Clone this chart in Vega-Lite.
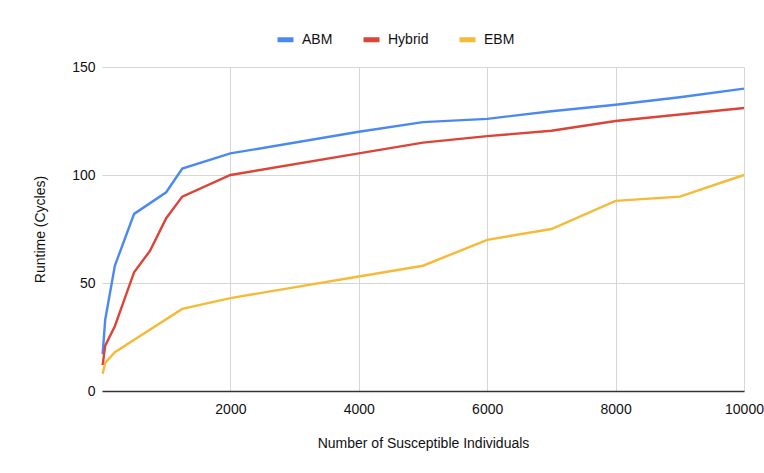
{
  "$schema": "https://vega.github.io/schema/vega-lite/v6.json",
  "width": 642,
  "height": 324,
  "autosize": {"type": "none"},
  "padding": {"left": 102, "top": 67, "right": 20, "bottom": 82},
  "background": "white",
  "config": {
    "view": {"stroke": null},
    "font": "Liberation Sans",
    "axis": {"labelFont": "Liberation Sans", "titleFont": "Liberation Sans", "labelFontSize": 14, "titleFontSize": 14, "labelColor": "#111111", "titleColor": "#111111", "titleFontWeight": "normal", "gridColor": "#d6d6d6", "gridWidth": 1, "ticks": false},
    "legend": {"labelFont": "Liberation Sans", "labelFontSize": 14, "labelColor": "#111111"}
  },
  "data": {
    "values": [
      {"n": 10, "model": "ABM", "runtime": 17},
      {"n": 50, "model": "ABM", "runtime": 33},
      {"n": 200, "model": "ABM", "runtime": 58},
      {"n": 500, "model": "ABM", "runtime": 82},
      {"n": 1000, "model": "ABM", "runtime": 92},
      {"n": 1250, "model": "ABM", "runtime": 103},
      {"n": 2000, "model": "ABM", "runtime": 110},
      {"n": 4000, "model": "ABM", "runtime": 120},
      {"n": 5000, "model": "ABM", "runtime": 124.5},
      {"n": 6000, "model": "ABM", "runtime": 126},
      {"n": 7000, "model": "ABM", "runtime": 129.5},
      {"n": 8000, "model": "ABM", "runtime": 132.5},
      {"n": 9000, "model": "ABM", "runtime": 136},
      {"n": 10000, "model": "ABM", "runtime": 140},
      {"n": 10, "model": "Hybrid", "runtime": 12},
      {"n": 50, "model": "Hybrid", "runtime": 21},
      {"n": 200, "model": "Hybrid", "runtime": 30},
      {"n": 500, "model": "Hybrid", "runtime": 55},
      {"n": 750, "model": "Hybrid", "runtime": 65},
      {"n": 1000, "model": "Hybrid", "runtime": 80},
      {"n": 1250, "model": "Hybrid", "runtime": 90},
      {"n": 2000, "model": "Hybrid", "runtime": 100},
      {"n": 4000, "model": "Hybrid", "runtime": 110},
      {"n": 5000, "model": "Hybrid", "runtime": 115},
      {"n": 6000, "model": "Hybrid", "runtime": 118},
      {"n": 7000, "model": "Hybrid", "runtime": 120.5},
      {"n": 8000, "model": "Hybrid", "runtime": 125},
      {"n": 9000, "model": "Hybrid", "runtime": 128},
      {"n": 10000, "model": "Hybrid", "runtime": 131},
      {"n": 10, "model": "EBM", "runtime": 8},
      {"n": 50, "model": "EBM", "runtime": 13},
      {"n": 200, "model": "EBM", "runtime": 18},
      {"n": 1250, "model": "EBM", "runtime": 38},
      {"n": 2000, "model": "EBM", "runtime": 43},
      {"n": 4000, "model": "EBM", "runtime": 53},
      {"n": 5000, "model": "EBM", "runtime": 58},
      {"n": 6000, "model": "EBM", "runtime": 70},
      {"n": 7000, "model": "EBM", "runtime": 75},
      {"n": 8000, "model": "EBM", "runtime": 88},
      {"n": 9000, "model": "EBM", "runtime": 90},
      {"n": 10000, "model": "EBM", "runtime": 100}
    ]
  },
  "mark": {"type": "line", "strokeWidth": 2.4, "clip": false},
  "encoding": {
    "x": {
      "field": "n", "type": "quantitative",
      "scale": {"domain": [0, 10000], "nice": false, "zero": true},
      "axis": {"title": "Number of Susceptible Individuals", "values": [2000, 4000, 6000, 8000, 10000], "format": "d", "grid": true, "domain": true, "domainColor": "#333333", "domainWidth": 1.5, "labelPadding": 11, "titlePadding": 20, "labelFlush": false}
    },
    "y": {
      "field": "runtime", "type": "quantitative",
      "scale": {"domain": [0, 150], "nice": false},
      "axis": {"title": "Runtime (Cycles)", "values": [0, 50, 100, 150], "grid": true, "domain": false, "labelPadding": 7, "titlePadding": 24}
    },
    "color": {
      "field": "model", "type": "nominal",
      "scale": {"domain": ["ABM", "Hybrid", "EBM"], "range": ["#4a89f3", "#db4437", "#f5ba38"]},
      "legend": {"title": null, "orient": "none", "direction": "horizontal", "legendX": 173, "legendY": -38, "symbolType": "stroke", "symbolStrokeWidth": 5, "symbolSize": 256, "labelOffset": 6, "columnPadding": 20}
    }
  }
}
